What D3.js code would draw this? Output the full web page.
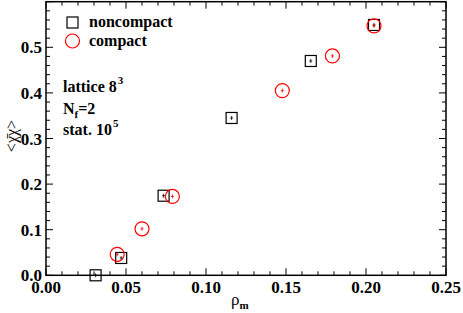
<!DOCTYPE html>
<html lang="en">
<head>
<meta charset="UTF-8">
<title></title>
<script src="https://d3js.org/d3.v7.min.js"></script>
<style>
body { margin: 0; background: #fff; }
text { font-family: "Liberation Serif", "Times New Roman", serif; }
</style>
</head>
<body>
<script>

var w = 463;
var h = 313;

// noncompact (squares)
var ncX = [0.031, 0.047, 0.0735, 0.116, 0.1655, 0.205];
var ncY = [0.000, 0.038, 0.1745, 0.345, 0.470, 0.549];
// compact (circles)
var cX = [0.0445, 0.060, 0.079, 0.1477, 0.179, 0.205];
var cY = [0.046, 0.102, 0.173, 0.405, 0.481, 0.547];

var xTicks = [0.00, 0.05, 0.10, 0.15, 0.20, 0.25];
var yTicks = [0.0, 0.1, 0.2, 0.3, 0.4, 0.5];

var x = d3.scaleLinear().domain([0, 0.25]).range([46, 446]);
var y = d3.scaleLinear().domain([0, 0.6]).range([275.3, 1.7]);

var svg = d3.select("body").append("svg")
    .attr("width", w)
    .attr("height", h);

var ncData = ncX.map(function(d, i) { return {x: d, y: ncY[i]}; });
var cData = cX.map(function(d, i) { return {x: d, y: cY[i]}; });

// frame
svg.append("rect")
    .attr("x", x(0)).attr("y", y(0.6))
    .attr("width", x(0.25) - x(0)).attr("height", y(0) - y(0.6))
    .attr("fill", "none").attr("stroke", "#000").attr("stroke-width", 1.5);

// ticks, inward on all four sides
var xMinor = d3.range(0, 0.2501, 0.01);
var yMinor = d3.range(0, 0.601, 0.02);
var tk = svg.append("g").attr("stroke", "#000").attr("stroke-width", 1);
xMinor.forEach(function(v, i) {
    var len = (i % 5 == 0) ? 7 : 4;
    tk.append("line").attr("x1", x(v)).attr("x2", x(v)).attr("y1", y(0)).attr("y2", y(0) - len);
    tk.append("line").attr("x1", x(v)).attr("x2", x(v)).attr("y1", y(0.6)).attr("y2", y(0.6) + len);
});
yMinor.forEach(function(v, i) {
    var len = (i % 5 == 0) ? 7 : 4;
    tk.append("line").attr("y1", y(v)).attr("y2", y(v)).attr("x1", x(0)).attr("x2", x(0) + len);
    tk.append("line").attr("y1", y(v)).attr("y2", y(v)).attr("x1", x(0.25)).attr("x2", x(0.25) - len);
});

// tick labels
svg.selectAll(".xl").data(xTicks).enter().append("text")
    .attr("x", function(d) { return x(d); })
    .attr("y", 293)
    .attr("text-anchor", "middle")
    .attr("font-size", "17px").attr("font-weight", "bold")
    .text(function(d) { return d3.format(".2f")(d); });

svg.selectAll(".yl").data(yTicks).enter().append("text")
    .attr("x", 42)
    .attr("y", function(d) { return y(d) + 6; })
    .attr("text-anchor", "end")
    .attr("font-size", "17px").attr("font-weight", "bold")
    .text(function(d) { return d3.format(".1f")(d); });

// axis titles
var xt = svg.append("text").attr("x", 231).attr("y", 305).attr("font-size", "17px");
xt.append("tspan").text("\u03C1");
xt.append("tspan").attr("dy", 4).attr("font-size", "11px").attr("font-weight", "bold").text("m");

svg.append("text")
    .attr("transform", "translate(17,136) rotate(-90)")
    .attr("text-anchor", "middle")
    .attr("font-size", "16px")
    .text("<\u03C7\u0304\u03C7>");

// error bars (small crosses)
function cross(g, data, col) {
    g.selectAll(".eh").data(data).enter().append("line")
        .attr("x1", function(d) { return x(d.x) - 1.5; })
        .attr("x2", function(d) { return x(d.x) + 1.5; })
        .attr("y1", function(d) { return y(d.y); })
        .attr("y2", function(d) { return y(d.y); })
        .attr("stroke", col).attr("stroke-width", 0.8);
    g.selectAll(".ev").data(data).enter().append("line")
        .attr("x1", function(d) { return x(d.x); })
        .attr("x2", function(d) { return x(d.x); })
        .attr("y1", function(d) { return y(d.y) - 2; })
        .attr("y2", function(d) { return y(d.y) + 2; })
        .attr("stroke", col).attr("stroke-width", 0.8);
}

var gs = svg.append("g");
gs.selectAll("rect").data(ncData).enter().append("rect")
    .attr("x", function(d) { return x(d.x) - 5.5; })
    .attr("y", function(d) { return y(d.y) - 5.5; })
    .attr("width", 11).attr("height", 11)
    .attr("fill", "none").attr("stroke", "#000").attr("stroke-width", 1.2);
cross(gs, ncData, "#000");

var gc = svg.append("g");
gc.selectAll("circle").data(cData).enter().append("circle")
    .attr("cx", function(d) { return x(d.x); })
    .attr("cy", function(d) { return y(d.y); })
    .attr("r", 7)
    .attr("fill", "none").attr("stroke", "#ff0000").attr("stroke-width", 1.2);
cross(gc, cData, "#ff0000");

// legend
svg.append("rect").attr("x", 67).attr("y", 17).attr("width", 11).attr("height", 11)
    .attr("fill", "none").attr("stroke", "#000").attr("stroke-width", 1.2);
svg.append("text").attr("x", 89).attr("y", 27)
    .attr("font-size", "16px").attr("font-weight", "bold").text("noncompact");
svg.append("circle").attr("cx", 72.5).attr("cy", 41).attr("r", 7)
    .attr("fill", "none").attr("stroke", "#ff0000").attr("stroke-width", 1.2);
svg.append("text").attr("x", 89).attr("y", 46)
    .attr("font-size", "16px").attr("font-weight", "bold").text("compact");

// annotation
var notes = svg.append("g").attr("font-size", "16px").attr("font-weight", "bold");
var t1 = notes.append("text").attr("x", 63).attr("y", 92);
t1.append("tspan").text("lattice 8");
t1.append("tspan").attr("dx", 1).attr("dy", -8).attr("font-size", "11px").text("3");
var t2 = notes.append("text").attr("x", 63).attr("y", 114);
t2.append("tspan").text("N");
t2.append("tspan").attr("dy", 4).attr("font-size", "11px").text("f");
t2.append("tspan").attr("dy", -4).text("=2");
var t3 = notes.append("text").attr("x", 63).attr("y", 135);
t3.append("tspan").text("stat. 10");
t3.append("tspan").attr("dx", 1).attr("dy", -8).attr("font-size", "11px").text("5");

</script>
</body>
</html>
